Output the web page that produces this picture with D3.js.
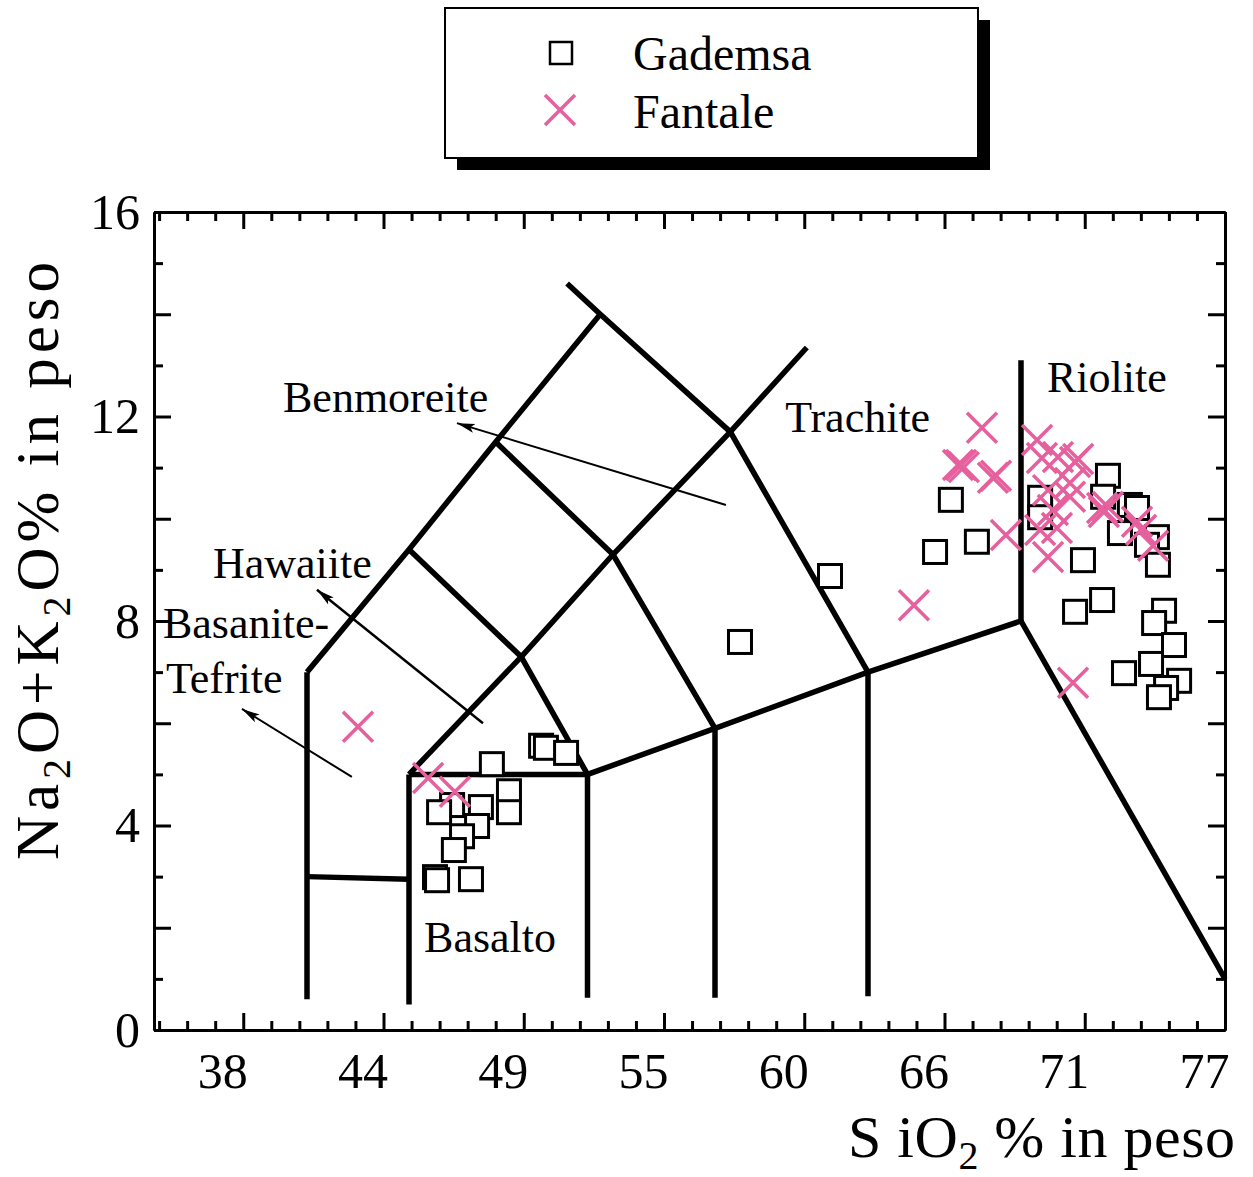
<!DOCTYPE html>
<html>
<head>
<meta charset="utf-8">
<script src="https://cdn.jsdelivr.net/npm/d3@7"></script>
<style>
  body { margin: 0; background: #fff; }
  svg { display: block; font-family: "Liberation Serif", "Times New Roman", serif; }
</style>
</head>
<body>
<svg id="chart" width="1253" height="1177"></svg>
<script>
// Gademsa samples (SiO2, Na2O+K2O)
const gademsaSiO2 = [50.18, 50.37, 51.16, 48.25, 48.92, 48.92, 47.82, 46.69, 46.18, 47.67, 47.08, 46.76, 46.02, 46.10, 47.43,
  57.98, 61.51, 66.25, 65.63, 67.27, 69.75, 69.75, 72.41, 72.22, 73.27, 73.55, 72.88, 74.33, 73.94, 74.37,
  71.43, 71.12, 72.18, 74.61, 74.22, 75.00, 73.04, 74.10, 75.20, 74.69, 74.41];
const gademsaAlk = [5.56, 5.52, 5.42, 5.20, 4.67, 4.26, 4.36, 4.40, 4.26, 3.99, 3.79, 3.52, 2.99, 2.93, 2.95,
  7.59, 8.88, 10.37, 9.35, 9.55, 10.41, 10.03, 10.84, 10.43, 10.27, 10.21, 9.72, 9.64, 9.49, 9.10,
  9.19, 8.18, 8.41, 8.20, 7.96, 7.53, 6.98, 7.16, 6.83, 6.69, 6.51];

// Fantale samples
const fantaleSiO2 = [43.00, 45.75, 46.80, 64.80, 67.47, 66.53, 66.65, 66.76, 67.90, 68.02, 68.41, 71.04,
  69.63, 69.82, 70.45, 71.12, 71.24, 70.92, 70.06, 70.92, 70.25, 70.41, 69.75, 70.06, 72.18, 72.41, 72.25,
  73.55, 73.71, 74.18];
const fantaleAlk = [5.93, 4.93, 4.66, 8.31, 11.78, 11.05, 11.05, 11.01, 10.80, 10.84, 9.68, 6.79,
  11.54, 11.19, 11.21, 11.11, 11.17, 10.70, 10.56, 10.43, 10.17, 9.82, 9.78, 9.25, 10.21, 10.23, 10.13,
  9.94, 9.78, 9.47];

// axis ticks
const xMajorTicks = [38.5, 44, 49.5, 55, 60.5, 66, 71.5, 77];
const xTickLabels = ["38", "44", "49", "55", "60", "66", "71", "77"];
const yMajorTicks = [0, 2, 4, 6, 8, 10, 12, 14, 16];
const yLabelTicks = [0, 4, 8, 12, 16];
const yMinorTicks = [1, 3, 5, 7, 9, 11, 13, 15];

// TAS classification boundaries (SiO2, alkali)
const tasLines = [
  [[41, 0.6], [41, 7]],
  [[41, 3], [45, 2.95]],
  [[45, 0.5], [45, 5]],
  [[52, 0.63], [52, 5]],
  [[57, 0.63], [57, 5.9]],
  [[63, 0.66], [63, 7]],
  [[45, 5], [52, 5], [57, 5.9], [63, 7], [69, 8], [77, 1]],
  [[69, 8], [69, 13.1]],
  [[41, 7], [45, 9.4], [48.4, 11.5], [52.5, 14]],
  [[51.2, 14.6], [52.5, 14], [57.6, 11.7], [63, 7]],
  [[45, 5], [49.4, 7.3], [53, 9.3], [57.6, 11.7], [60.6, 13.35]],
  [[45, 9.4], [49.4, 7.3], [52, 5]],
  [[48.4, 11.5], [53, 9.3], [57, 5.9]]
];

// field names
const fieldNames = ["Benmoreite", "Trachite", "Riolite", "Hawaiite", "Basanite-", "Tefrite", "Basalto"];
const fieldX = [40.06, 59.75, 70.02, 37.31, 35.35, 35.47, 45.59];
const fieldY = [12.09, 11.70, 12.48, 8.84, 7.67, 6.59, 1.53];

// pointer arrows: [tail, tip]
const arrows = [
  [[57.43, 10.27], [46.88, 11.87]],
  [[47.90, 6.00], [41.39, 8.61]],
  [[42.76, 4.95], [38.45, 6.28]]
];

const pink = "#e6609d";
const svg = d3.select("#chart");

const x = d3.scaleLinear().domain([35, 77]).range([154, 1225]);
const y = d3.scaleLinear().domain([0, 16]).range([1030, 212]);
const xMinorTicks = d3.range(35.2, 77, 1.1).filter(v => !xMajorTicks.some(m => Math.abs(m - v) < 0.05));

// ---- axes, all ticks point inward
function styleAxis(g) {
  g.selectAll("path.domain").attr("stroke-width", 3);
  g.selectAll(".tick line").attr("stroke-width", 3);
}
const axes = svg.append("g");

axes.append("g").attr("transform", "translate(0,1030)")
  .call(d3.axisBottom(x).tickValues(xMinorTicks).tickSize(-9).tickSizeOuter(0).tickFormat(""))
  .call(styleAxis);
const bottom = axes.append("g").attr("transform", "translate(0,1030)")
  .call(d3.axisBottom(x).tickValues(xMajorTicks).tickSize(-17).tickSizeOuter(0).tickPadding(22)
    .tickFormat((d, i) => xTickLabels[i]))
  .call(styleAxis);
bottom.selectAll("text").attr("x", -21).style("font-size", "50px").attr("fill", "#000")
  .style("font-family", "Liberation Serif, serif");

axes.append("g").attr("transform", "translate(0,212)")
  .call(d3.axisTop(x).tickValues(xMinorTicks).tickSize(-9).tickSizeOuter(0).tickFormat(""))
  .call(styleAxis);
axes.append("g").attr("transform", "translate(0,212)")
  .call(d3.axisTop(x).tickValues(xMajorTicks).tickSize(-17).tickSizeOuter(0).tickFormat(""))
  .call(styleAxis);

axes.append("g").attr("transform", "translate(154,0)")
  .call(d3.axisLeft(y).tickValues(yMinorTicks).tickSize(-9).tickSizeOuter(0).tickFormat(""))
  .call(styleAxis);
const left = axes.append("g").attr("transform", "translate(154,0)")
  .call(d3.axisLeft(y).tickValues(yMajorTicks).tickSize(-17).tickSizeOuter(0).tickPadding(14)
    .tickFormat(d => yLabelTicks.includes(d) ? d : ""))
  .call(styleAxis);
left.selectAll("text").style("font-size", "50px").attr("fill", "#000")
  .style("font-family", "Liberation Serif, serif");

axes.append("g").attr("transform", "translate(1225,0)")
  .call(d3.axisRight(y).tickValues(yMinorTicks).tickSize(-9).tickSizeOuter(0).tickFormat(""))
  .call(styleAxis);
axes.append("g").attr("transform", "translate(1225,0)")
  .call(d3.axisRight(y).tickValues(yMajorTicks).tickSize(-17).tickSizeOuter(0).tickFormat(""))
  .call(styleAxis);

// ---- boundaries
const line = d3.line().x(d => x(d[0])).y(d => y(d[1]));
svg.append("g").selectAll("path").data(tasLines).join("path")
  .attr("d", line).attr("fill", "none").attr("stroke", "#000")
  .attr("stroke-width", 5.5).attr("stroke-linejoin", "miter");

// ---- arrows
svg.append("defs").append("marker")
  .attr("id", "head").attr("markerUnits", "userSpaceOnUse")
  .attr("markerWidth", 20).attr("markerHeight", 12)
  .attr("refX", 18).attr("refY", 5).attr("orient", "auto")
  .append("path").attr("d", "M0,0.5 L18,5 L0,9.5 L4,5 Z").attr("fill", "#000");
svg.append("g").selectAll("path").data(arrows).join("path")
  .attr("d", line).attr("stroke", "#000").attr("stroke-width", (d, i) => i === 1 ? 2.5 : 2)
  .attr("fill", "none").attr("marker-end", "url(#head)");

// ---- field labels
svg.append("g").selectAll("text").data(fieldNames).join("text")
  .attr("x", (d, i) => x(fieldX[i])).attr("y", (d, i) => y(fieldY[i]))
  .style("font-size", "44px").text(d => d);

// ---- data
const gademsa = gademsaSiO2.map((v, i) => [v, gademsaAlk[i]]);
const fantale = fantaleSiO2.map((v, i) => [v, fantaleAlk[i]]);
const sq = 23, cr = 15;

svg.append("g").selectAll("rect").data(gademsa).join("rect")
  .attr("x", d => x(d[0]) - sq / 2).attr("y", d => y(d[1]) - sq / 2)
  .attr("width", sq).attr("height", sq)
  .attr("fill", "#fff").attr("stroke", "#000").attr("stroke-width", 3);

svg.append("g").selectAll("path").data(fantale).join("path")
  .attr("transform", d => `translate(${x(d[0])},${y(d[1])})`)
  .attr("d", `M${-cr},${-cr}L${cr},${cr}M${-cr},${cr}L${cr},${-cr}`)
  .attr("stroke", pink).attr("stroke-width", 3.5).attr("fill", "none");

// ---- axis titles
const xt = svg.append("text").attr("x", 848).attr("y", 1157).style("font-size", "60px")
  .attr("textLength", 387).attr("lengthAdjust", "spacing");
xt.append("tspan").text("S iO");
xt.append("tspan").attr("dy", 12).style("font-size", "40px").text("2");
xt.append("tspan").attr("dy", -12).text(" % in peso");

const yt = svg.append("text").attr("transform", "translate(58,561) rotate(-90)")
  .attr("text-anchor", "middle").style("font-size", "61px")
  .attr("textLength", 598).attr("lengthAdjust", "spacing");
yt.append("tspan").text("Na");
yt.append("tspan").attr("dy", 12).style("font-size", "40px").text("2");
yt.append("tspan").attr("dy", -12).text("O+K");
yt.append("tspan").attr("dy", 12).style("font-size", "40px").text("2");
yt.append("tspan").attr("dy", -12).text("O% in peso");

// ---- legend
const lg = svg.append("g");
lg.append("rect").attr("x", 457).attr("y", 20).attr("width", 533).attr("height", 150).attr("fill", "#000");
lg.append("rect").attr("x", 445).attr("y", 8).attr("width", 533).attr("height", 150)
  .attr("fill", "#fff").attr("stroke", "#000").attr("stroke-width", 2);
lg.append("rect").attr("x", 550).attr("y", 42).attr("width", 22).attr("height", 22)
  .attr("fill", "#fff").attr("stroke", "#000").attr("stroke-width", 2.5);
lg.append("path").attr("d", `M${560 - cr},${110 - cr}L${560 + cr},${110 + cr}M${560 - cr},${110 + cr}L${560 + cr},${110 - cr}`)
  .attr("stroke", pink).attr("stroke-width", 3.5);
lg.append("text").attr("x", 633).attr("y", 70).style("font-size", "48px").text("Gademsa");
lg.append("text").attr("x", 633).attr("y", 128).style("font-size", "48px").text("Fantale");
</script>
</body>
</html>
